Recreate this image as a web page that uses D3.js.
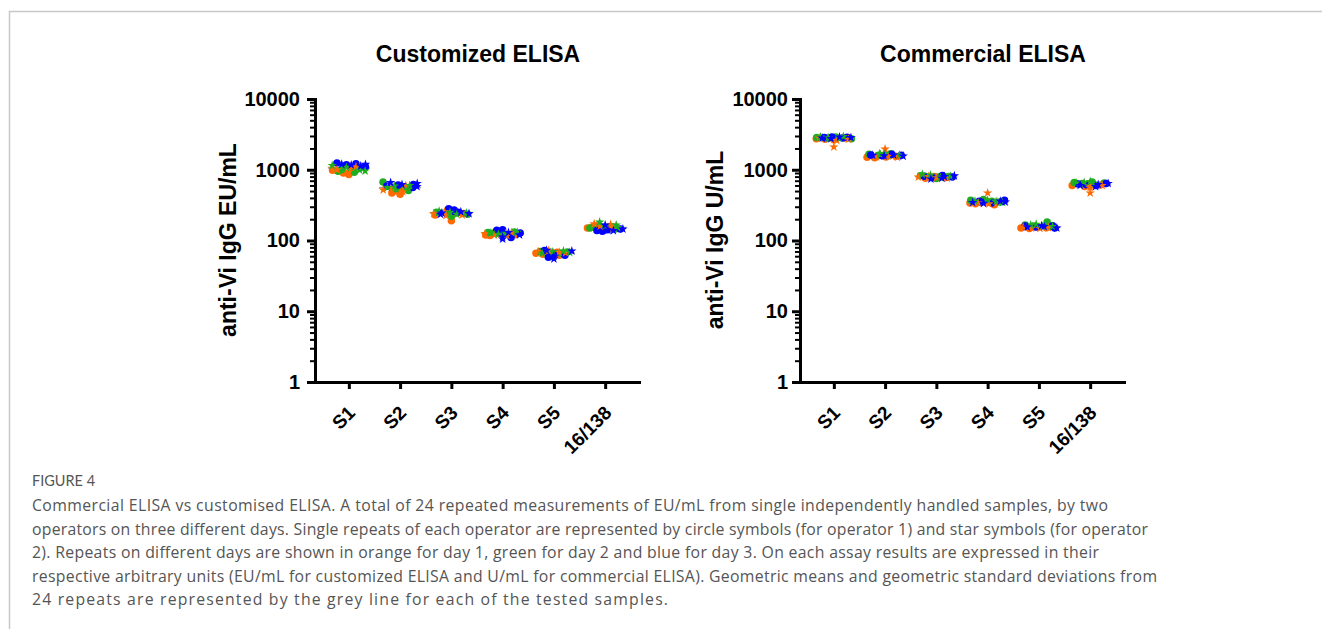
<!DOCTYPE html>
<html lang="en">
<head>
  <meta charset="UTF-8">
  <title>Figure 4</title>
  <script src="https://d3js.org/d3.v7.min.js"></script>
  <style>
    body { margin: 0; background: #fff; }
  </style>
</head>
<body>
<script>
  // categories (x axis)
  var categories = ["S1", "S2", "S3", "S4", "S5", "16/138"];
  // day 1 orange, day 2 green, day 3 blue
  var dayColors = ["#ff6a00", "#1fae1f", "#0000ff"];
  var yTicks = [1, 10, 100, 1000, 10000];

  // 24 repeats per sample: operator 1 (circles) day1 x4, day2 x4, day3 x4, then operator 2 (stars) same order
  var customized = [
    [980, 900, 860, 1040, 950, 1010, 920, 1080, 1250, 1180, 1220, 1100,
     1050, 1000, 940, 1100, 1150, 1080, 990, 960, 1200, 1170, 1130, 1190],
    [470, 450, 520, 500, 670, 540, 560, 510, 590, 610, 560, 620,
     520, 560, 600, 490, 560, 590, 530, 600, 660, 620, 580, 640],
    [190, 230, 245, 240, 250, 240, 220, 235, 280, 260, 250, 270,
     240, 255, 225, 230, 260, 250, 235, 245, 245, 235, 255, 240],
    [120, 118, 125, 122, 130, 128, 125, 132, 142, 140, 110, 128,
     125, 120, 118, 130, 128, 122, 126, 131, 105, 112, 130, 120],
    [66, 64, 68, 62, 70, 68, 66, 69, 72, 65, 58, 62,
     70, 72, 68, 67, 66, 69, 71, 68, 73, 55, 60, 71],
    [150, 155, 145, 148, 150, 160, 155, 145, 138, 135, 142, 145,
     172, 168, 160, 150, 182, 165, 158, 152, 165, 140, 138, 145]
  ];
  var commercial = [
    [2750, 2700, 2650, 2800, 2850, 2800, 2900, 2750, 2850, 2900, 2800, 2880,
     2800, 2100, 2600, 2700, 2900, 2850, 2780, 2950, 2800, 2750, 2900, 2850],
    [1500, 1480, 1520, 1550, 1650, 1600, 1620, 1680, 1620, 1580, 1650, 1600,
     1960, 1520, 1560, 1500, 1680, 1640, 1700, 1620, 1600, 1580, 1620, 1560],
    [760, 790, 800, 780, 820, 750, 790, 800, 810, 780, 830, 790,
     790, 800, 770, 760, 860, 840, 780, 810, 740, 760, 800, 820],
    [340, 330, 350, 320, 370, 380, 360, 350, 360, 350, 340, 370,
     470, 340, 330, 350, 360, 370, 355, 345, 345, 335, 360, 350],
    [150, 148, 155, 152, 165, 160, 182, 158, 160, 155, 162, 150,
     155, 150, 148, 152, 165, 170, 160, 158, 155, 162, 158, 150],
    [600, 580, 620, 610, 660, 640, 670, 650, 630, 620, 600, 640,
     470, 560, 590, 600, 650, 660, 640, 680, 600, 580, 620, 640]
  ];

  var captionLines = [
    "Commercial ELISA vs customised ELISA. A total of 24 repeated measurements of EU/mL from single independently handled samples, by two",
    "operators on three different days. Single repeats of each operator are represented by circle symbols (for operator 1) and star symbols (for operator",
    "2). Repeats on different days are shown in orange for day 1, green for day 2 and blue for day 3. On each assay results are expressed in their",
    "respective arbitrary units (EU/mL for customized ELISA and U/mL for commercial ELISA). Geometric means and geometric standard deviations from",
    "24 repeats are represented by the grey line for each of the tested samples."
  ];
  var captionEnds = [1108, 1148, 1099, 1157, 668];

  var width = 1322, height = 629;
  var font = "'Liberation Sans', Arial, sans-serif";
  var svg = d3.select('body').append('svg').attr('width', width).attr('height', height);

  // grey frame (top + left)
  svg.append('path').attr('d', 'M9.5,629V11.5H1322')
    .attr('fill', 'none').attr('stroke', '#c8c8c8').attr('stroke-width', 1.5);

  var circle = d3.symbol().type(d3.symbolCircle).size(44);
  var star = d3.symbol().type(d3.symbolStar).size(28);

  // prism-like scatter: points falling in the same few pixels are spread sideways
  function spread(vals, cx, y) {
    var pts = vals.map(function(v, i) {
      return {v: v, y: y(v), rep: i % 4, op: Math.floor(i / 12), day: Math.floor((i % 12) / 4)};
    });
    var bins = d3.group(pts, function(p) { return Math.round(p.y / 4); });
    bins.forEach(function(list) {
      // mix days/operators along the row
      list.sort(function(a, b) {
        return (a.rep * 6 + a.day * 2 + a.op) - (b.rep * 6 + b.day * 2 + b.op);
      });
      var n = list.length, s = Math.min(5.5, 38 / n);
      list.forEach(function(p, j) { p.x = cx + (j - (n - 1) / 2) * s; });
    });
    return pts;
  }

  function drawChart(opt) {
    var g = svg.append('g');
    var x = d3.scalePoint().domain(categories).range([opt.left, opt.left + 324]).padding(0.66);
    var y = d3.scaleLog().domain([1, 10000]).range([382, 99]);

    // minor ticks 2..9 of each decade
    var minor = [];
    for (var e = 0; e < 4; e++) for (var m = 2; m < 10; m++) minor.push(m * Math.pow(10, e));
    var ym = g.append('g').attr('transform', 'translate(' + opt.left + ',0)')
      .call(d3.axisLeft(y).tickValues(minor).tickSize(5).tickFormat(''));
    ym.select('.domain').remove();
    ym.selectAll('line').attr('stroke', '#000').attr('stroke-width', 2);

    var ya = g.append('g').attr('transform', 'translate(' + opt.left + ',0)')
      .call(d3.axisLeft(y).tickValues(yTicks).tickSize(8).tickSizeOuter(0)
        .tickPadding(opt.pad).tickFormat(d3.format('d')));
    ya.attr('font-family', font).attr('font-size', 20).attr('font-weight', 'bold');
    ya.select('.domain').attr('stroke', '#000').attr('stroke-width', 3).attr('stroke-linecap', 'square');
    ya.selectAll('.tick line').attr('stroke', '#000').attr('stroke-width', 3);
    ya.selectAll('.tick text').attr('fill', '#000');

    var xa = g.append('g').attr('transform', 'translate(0,382)')
      .call(d3.axisBottom(x).tickSize(7).tickSizeOuter(0));
    xa.attr('font-family', font).attr('font-size', 19).attr('font-weight', 'bold');
    xa.select('.domain').attr('stroke', '#000').attr('stroke-width', 3).attr('stroke-linecap', 'square');
    xa.selectAll('.tick line').attr('stroke', '#000').attr('stroke-width', 3);
    xa.selectAll('.tick text')
      .attr('fill', '#000').attr('x', 0).attr('y', 0).attr('dy', 0)
      .attr('text-anchor', 'end')
      .attr('transform', 'translate(7,32) rotate(-45)');

    // geometric mean + geometric SD (grey), under the points
    opt.values.forEach(function(vals, ci) {
      var logs = vals.map(function(v) { return Math.log(v); });
      var gm = Math.exp(d3.mean(logs));
      var gsd = Math.exp(d3.deviation(logs));
      var cx = x(categories[ci]);
      var eg = g.append('g').attr('stroke', '#a0a0a0').attr('stroke-width', 1.5);
      eg.append('line').attr('x1', cx - 21).attr('x2', cx + 21).attr('y1', y(gm)).attr('y2', y(gm));
      eg.append('line').attr('x1', cx).attr('x2', cx).attr('y1', y(gm / gsd)).attr('y2', y(gm * gsd));
      eg.append('line').attr('x1', cx - 7).attr('x2', cx + 7).attr('y1', y(gm / gsd)).attr('y2', y(gm / gsd));
      eg.append('line').attr('x1', cx - 7).attr('x2', cx + 7).attr('y1', y(gm * gsd)).attr('y2', y(gm * gsd));

      var pts = spread(vals, cx, y);
      g.append('g').selectAll('path')
        .data(pts)
        .enter()
        .append('path')
        .attr('d', function(d) { return d.op === 0 ? circle() : star(); })
        .attr('transform', function(d) { return 'translate(' + d.x + ',' + d.y + ')'; })
        .attr('fill', function(d) { return dayColors[d.day]; });
    });

    // titles
    g.append('text').attr('x', opt.titleX).attr('y', 62)
      .attr('text-anchor', 'middle').attr('font-family', font).attr('font-size', 23)
      .attr('font-weight', 'bold').text(opt.title);
    g.append('text').attr('transform', 'translate(' + opt.yTitleX + ',240) rotate(-90)')
      .attr('text-anchor', 'middle').attr('font-family', font).attr('font-size', 23)
      .attr('font-weight', 'bold').text(opt.yTitle);
  }

  drawChart({left: 315, pad: 7, values: customized, title: 'Customized ELISA', titleX: 478,
             yTitle: 'anti-Vi IgG EU/mL', yTitleX: 236});
  drawChart({left: 800, pad: 4, values: commercial, title: 'Commercial ELISA', titleX: 983,
             yTitle: 'anti-Vi IgG U/mL', yTitleX: 723});

  // caption
  var capFont = "'Open Sans', Lato, sans-serif";
  svg.append('text').attr('x', 32).attr('y', 486)
    .attr('font-family', "Lato, sans-serif").attr('font-size', 14.5).attr('fill', '#555')
    .text('FIGURE 4');
  svg.append('g').selectAll('text')
    .data(captionLines)
    .enter()
    .append('text')
    .attr('x', 32)
    .attr('y', function(d, i) { return 511 + i * 23.6; })
    .attr('font-family', capFont).attr('font-size', 15.8).attr('fill', '#555')
    .attr('textLength', function(d, i) { return captionEnds[i] - 32; })
    .attr('lengthAdjust', 'spacing')
    .text(function(d) { return d; });
</script>
</body>
</html>
